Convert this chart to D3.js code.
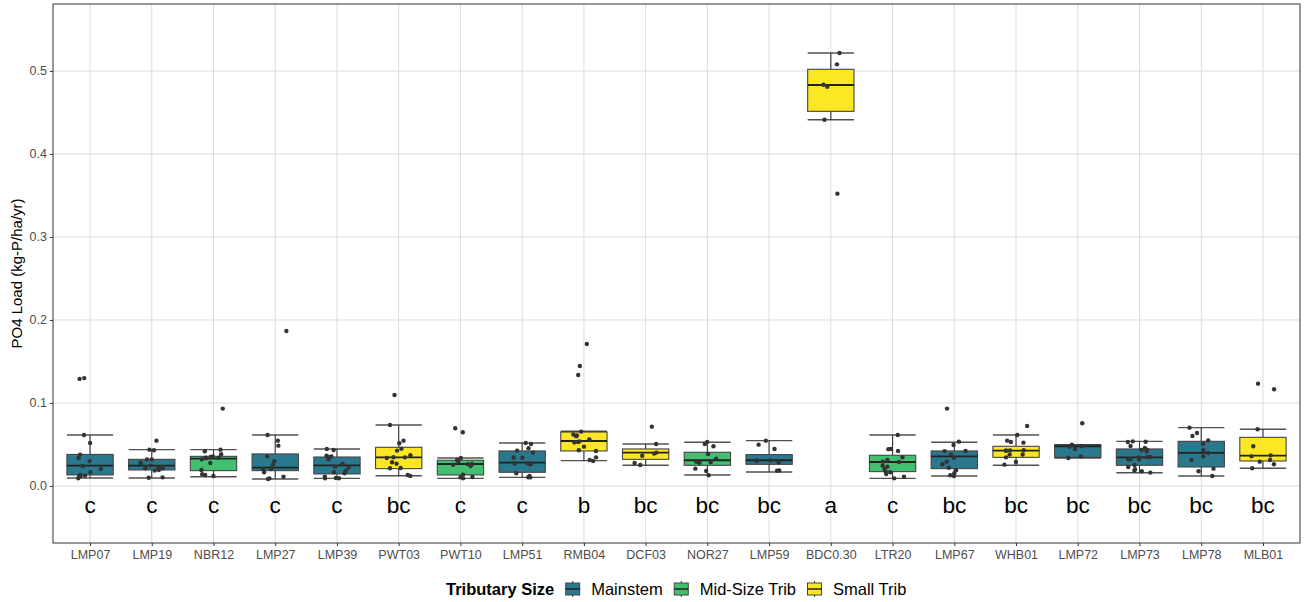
<!DOCTYPE html>
<html>
<head>
<meta charset="utf-8">
<script src="https://cdn.jsdelivr.net/npm/d3@7"></script>
<style>
  html, body { margin: 0; padding: 0; background: #fff; }
  svg { display: block; font-family: "Liberation Sans", Arial, sans-serif; }
</style>
</head>
<body>
<svg id="chart" width="1304" height="602"></svg>
<script>
// Sampling sites along the mainstem and tributaries
const sites = ["LMP07","LMP19","NBR12","LMP27","LMP39","PWT03","PWT10","LMP51","RMB04","DCF03",
               "NOR27","LMP59","BDC0.30","LTR20","LMP67","WHB01","LMP72","LMP73","LMP78","MLB01"];
const tributary = ["Mainstem","Mainstem","Mid-Size Trib","Mainstem","Mainstem","Small Trib","Mid-Size Trib","Mainstem","Small Trib","Small Trib",
                   "Mid-Size Trib","Mainstem","Small Trib","Mid-Size Trib","Mainstem","Small Trib","Mainstem","Mainstem","Mainstem","Small Trib"];
// Compact letter display from the pairwise comparisons
const letters = ["c","c","c","c","c","bc","c","c","b","bc","bc","bc","a","c","bc","bc","bc","bc","bc","bc"];

// Box statistics (kg-P/ha/yr)
const whiskerLo = [0.0096,0.0096,0.0112,0.0084,0.0092,0.0124,0.0092,0.0104,0.0305,0.0249,0.0133,0.0169,0.4413,0.0092,0.0120,0.0249,0.0337,0.0160,0.0120,0.0213];
const q1        = [0.0133,0.0193,0.0185,0.0185,0.0145,0.0209,0.0133,0.0165,0.0422,0.0321,0.0249,0.0261,0.4514,0.0173,0.0209,0.0345,0.0345,0.0249,0.0229,0.0301];
const median    = [0.0245,0.0245,0.0329,0.0221,0.0249,0.0345,0.0265,0.0281,0.0542,0.0402,0.0310,0.0310,0.4831,0.0289,0.0357,0.0426,0.0478,0.0345,0.0398,0.0365];
const q3        = [0.0380,0.0321,0.0357,0.0386,0.0349,0.0466,0.0310,0.0422,0.0650,0.0446,0.0406,0.0378,0.5020,0.0370,0.0422,0.0478,0.0494,0.0446,0.0538,0.0586];
const whiskerHi = [0.0614,0.0438,0.0438,0.0614,0.0446,0.0735,0.0337,0.0518,0.0660,0.0506,0.0526,0.0546,0.5217,0.0614,0.0526,0.0614,0.0498,0.0538,0.0703,0.0683];

// Individual annual loads per site
const loads = [
  [0.130,0.129,0.0614,0.0518,0.0378,0.0337,0.030,0.0241,0.0205,0.0133,0.0125,0.0112,0.0092,0.0165,0.012],
  [0.0546,0.0438,0.043,0.0281,0.0321,0.0321,0.0273,0.0245,0.0213,0.022,0.0213,0.0193,0.0185,0.0104,0.010,0.023],
  [0.0932,0.0438,0.0418,0.0382,0.0357,0.0337,0.0321,0.035,0.034,0.0277,0.0193,0.0141,0.012,0.0133,0.034],
  [0.1867,0.0614,0.0546,0.0486,0.0357,0.030,0.0261,0.0221,0.0205,0.0205,0.0165,0.0112,0.0092,0.0084],
  [0.0446,0.0434,0.0349,0.0365,0.0321,0.0357,0.0265,0.0233,0.0221,0.0153,0.0165,0.0185,0.0092,0.0096,0.0094,0.0112],
  [0.1096,0.0735,0.0546,0.0514,0.045,0.0426,0.037,0.0345,0.0347,0.0337,0.0269,0.0285,0.0217,0.0213,0.0133,0.012],
  [0.0695,0.0647,0.0337,0.0313,0.0293,0.0265,0.0263,0.0241,0.0255,0.0137,0.0108,0.0106,0.0092],
  [0.0518,0.0506,0.0454,0.0426,0.0402,0.0341,0.0343,0.0273,0.0271,0.0261,0.0153,0.012,0.0104,0.0104],
  [0.1710,0.1446,0.1337,0.061,0.062,0.0655,0.0598,0.0562,0.0538,0.053,0.0474,0.0422,0.043,0.0345,0.0313,0.0301,0.0525],
  [0.0715,0.0506,0.0402,0.039,0.0365,0.0277,0.0253],
  [0.053,0.0506,0.0478,0.0386,0.0329,0.0293,0.0295,0.0281,0.0283,0.0209,0.0181,0.0129,0.0287],
  [0.0546,0.0498,0.0446,0.0305,0.0307,0.0309,0.0185,0.0187,0.0283],
  [0.5217,0.508,0.481,0.4835,0.4413,0.3522],
  [0.0614,0.0446,0.0422,0.0444,0.0345,0.0313,0.0293,0.0289,0.0233,0.0205,0.0173,0.0165,0.0145,0.0112,0.0092,0.0245],
  [0.0932,0.0422,0.0420,0.0534,0.0494,0.034,0.0293,0.0378,0.0261,0.0221,0.0189,0.0153,0.0129,0.012],
  [0.0723,0.0614,0.0546,0.053,0.043,0.0428,0.0345,0.0289,0.0257,0.0522,0.0426,0.0424,0.0378,0.038],
  [0.0755,0.0498,0.0474,0.0446,0.0482,0.0357,0.0337],
  [0.053,0.0532,0.0538,0.0482,0.0458,0.0434,0.0436,0.0418,0.0345,0.0321,0.035,0.0348,0.0323,0.0319,0.0253,0.0229,0.0201,0.0177,0.0161,0.0185],
  [0.0703,0.0639,0.0602,0.055,0.051,0.043,0.0398,0.0357,0.0313,0.0209,0.0177,0.012],
  [0.1233,0.1165,0.0683,0.0478,0.0369,0.0357,0.0313,0.0293,0.0261,0.0213]
];

const yTicks = [0, 0.1, 0.2, 0.3, 0.4, 0.5];
const groups = ["Mainstem", "Mid-Size Trib", "Small Trib"];
const groupColors = ["#2A788E", "#43BF71", "#FDE725"];

const svg = d3.select("#chart");
const panel = { left: 53, right: 1300, top: 4, bottom: 543 };

// ggplot-style discrete axis: 0.6 unit expansion on either side
const step = (panel.right - panel.left) / (sites.length + 0.2);
const x = d3.scalePoint()
  .domain(sites)
  .range([panel.left + 0.6 * step, panel.right - 0.6 * step]);
const xc = s => x(s);

const y = d3.scaleLinear().domain([-0.0687, 0.5807]).range([panel.bottom, panel.top]);
const fill = d3.scaleOrdinal().domain(groups).range(groupColors);

// Grid lines
const grid = svg.append("g");
grid.selectAll("line.h").data(yTicks).join("line")
  .attr("x1", panel.left).attr("x2", panel.right)
  .attr("y1", d => y(d)).attr("y2", d => y(d))
  .attr("stroke", "#dcdcdc").attr("stroke-width", 1);
grid.selectAll("line.v").data(sites).join("line")
  .attr("x1", d => xc(d)).attr("x2", d => xc(d))
  .attr("y1", panel.top).attr("y2", panel.bottom)
  .attr("stroke", "#dcdcdc").attr("stroke-width", 1);

// Axes
const yAxis = d3.axisLeft(y).tickValues(yTicks).tickFormat(d3.format(".1f")).tickSizeOuter(0).tickSize(3).tickPadding(3);
const gy = svg.append("g").attr("transform", `translate(${panel.left},0)`).call(yAxis);
gy.select(".domain").remove();
gy.selectAll("line").attr("stroke", "#333");
gy.selectAll("text").attr("fill", "#4d4d4d").attr("font-size", 12.5).attr("font-family", "Liberation Sans, Arial, sans-serif");

const xAxis = d3.axisBottom(x).tickSize(3).tickPadding(4).tickSizeOuter(0);
const gx = svg.append("g").attr("transform", `translate(0,${panel.bottom})`).call(xAxis);
gx.select(".domain").remove();
gx.selectAll("line").attr("stroke", "#333");
gx.selectAll("text").attr("fill", "#4d4d4d").attr("font-size", 12.5).attr("font-family", "Liberation Sans, Arial, sans-serif");

svg.append("text")
  .attr("transform", `translate(22,${(panel.top + panel.bottom) / 2}) rotate(-90)`)
  .attr("text-anchor", "middle")
  .attr("font-size", 15).attr("fill", "#000")
  .text("PO4 Load (kg-P/ha/yr)");

// Boxplots
const boxW = step * 0.75;
const boxes = svg.append("g");
sites.forEach((s, i) => {
  const cx = xc(s);
  const g = boxes.append("g");
  // whiskers
  g.append("line").attr("x1", cx).attr("x2", cx).attr("y1", y(q3[i])).attr("y2", y(whiskerHi[i]))
    .attr("stroke", "#333").attr("stroke-width", 1.1);
  g.append("line").attr("x1", cx).attr("x2", cx).attr("y1", y(q1[i])).attr("y2", y(whiskerLo[i]))
    .attr("stroke", "#333").attr("stroke-width", 1.1);
  // box
  g.append("rect")
    .attr("x", cx - boxW / 2).attr("width", boxW)
    .attr("y", y(q3[i])).attr("height", y(q1[i]) - y(q3[i]))
    .attr("fill", fill(tributary[i])).attr("stroke", "#444").attr("stroke-width", 1.1);
  // median
  g.append("line").attr("x1", cx - boxW / 2).attr("x2", cx + boxW / 2)
    .attr("y1", y(median[i])).attr("y2", y(median[i]))
    .attr("stroke", "#222").attr("stroke-width", 1.8);
  // error bar caps
  [whiskerLo[i], whiskerHi[i]].forEach(v => {
    g.append("line").attr("x1", cx - boxW / 2).attr("x2", cx + boxW / 2)
      .attr("y1", y(v)).attr("y2", y(v))
      .attr("stroke", "#333").attr("stroke-opacity", 0.85).attr("stroke-width", 1.4);
  });
});

// Jittered points (deterministic horizontal spread)
function hash(i, j) {
  let t = (i * 7919 + j * 104729 + 0x6D2B79F5) >>> 0;
  t = Math.imul(t ^ (t >>> 15), t | 1);
  t ^= t + Math.imul(t ^ (t >>> 7), t | 61);
  return ((t ^ (t >>> 14)) >>> 0) / 4294967296;
}
const pts = [];
loads.forEach((arr, i) => arr.forEach((v, j) => pts.push({ site: sites[i], v, dx: (hash(i, j) - 0.5) * 0.4 * step })));
svg.append("g").selectAll("circle").data(pts).join("circle")
  .attr("cx", d => xc(d.site) + d.dx)
  .attr("cy", d => y(d.v))
  .attr("r", 2.2)
  .attr("fill", "#333");

// Significance letters
svg.append("g").selectAll("text").data(sites).join("text")
  .attr("x", d => xc(d))
  .attr("y", y(-0.0225))
  .attr("dy", "0.36em")
  .attr("text-anchor", "middle")
  .attr("font-size", 22.5)
  .attr("fill", "#000")
  .text((d, i) => letters[i]);

// Panel border
svg.append("rect")
  .attr("x", panel.left).attr("y", panel.top)
  .attr("width", panel.right - panel.left).attr("height", panel.bottom - panel.top)
  .attr("fill", "none").attr("stroke", "#333").attr("stroke-width", 1);

// Legend
const legend = svg.append("g").attr("transform", "translate(0,589)");
const title = legend.append("text").attr("x", 446).attr("y", 0).attr("dy", "0.35em")
  .attr("font-size", 16.5).attr("font-weight", "bold").text("Tributary Size");
let lx = 446 + title.node().getComputedTextLength() + 11;
groups.forEach((gname, k) => {
  const item = legend.append("g").attr("transform", `translate(${lx},0)`);
  item.append("line").attr("x1", 7.5).attr("x2", 7.5).attr("y1", -8).attr("y2", 8).attr("stroke", "#333");
  item.append("rect").attr("x", 0.5).attr("y", -6).attr("width", 14).attr("height", 12)
    .attr("fill", fill(gname)).attr("stroke", "#444");
  item.append("line").attr("x1", 0.5).attr("x2", 14.5).attr("y1", 0).attr("y2", 0).attr("stroke", "#222").attr("stroke-width", 1.5);
  const t = item.append("text").attr("x", 26).attr("y", 0).attr("dy", "0.35em")
    .attr("font-size", 16.5).text(gname);
  lx += 26 + t.node().getComputedTextLength() + 11;
});
</script>
</body>
</html>
